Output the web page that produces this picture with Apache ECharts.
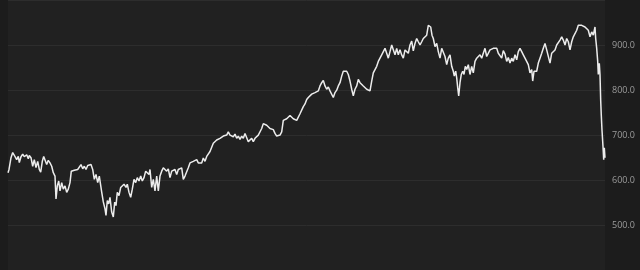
<!DOCTYPE html>
<html>
<head>
<meta charset="utf-8">
<script src="https://cdn.jsdelivr.net/npm/echarts@6/dist/echarts.min.js"></script>
<style>
html,body{margin:0;padding:0;background:#1c1c1c;}
#c{width:640px;height:270px;}
</style>
</head>
<body>
<div id="c"></div>
<script>
// trading-day index (x) and index level (y)
var days = [
0,1,3,4.7,6,7.3,8.7,10.3,11.3,13,14.7,16.3,18.7,20.3,21.3,23,24.7,26.3,28,29.7,31.3,32.7,34.3,35.7,37.3,38.7,40.3,42,43.7,45.3,47,48,49.3,50.7,52,53.7,55.3,57,58.7,60.3,62,63.3,64.7,66.3,68,69.7,71.3,73,74.7,76.3,78,79.7,81.3,83,84.7,86.3,88,89.7,91.3,
93.7,95.3,97,98,99.3,100.7,102,103.7,105.3,106.7,108,109.3,111,112.7,114.3,116,118,119.3,121,122.7,124.3,126,127.7,129.3,131,132.7,134.3,136,137.7,139.3,141,142,143.7,145.3,147,148.7,150.3,152,153.7,155.3,157,158.7,160.3,162,163.7,165.3,167,168.7,170.3,172,173.7,175.3,177,178.7,180.3,182,183.7,185.3,187,188.7,190.3,192,
193.7,195.3,197,198.7,200.3,202,203.7,205.3,207,208.7,210.3,212,213.7,215.3,217,218.7,220.3,222,223.7,225.3,227,228.7,230.3,232,233.7,235.3,237,238.7,240.3,242,243.7,245.3,247,248.7,250.3,252,253.7,255.3,257,258.7,260.3,262,263.7,265.3,267,268.7,270.3,272,273.7,275.3,277,278.7,280.3,282,283.7,285.3,287,288.7,290.3,292,293.7,295.3,297,298.7,300.3,
302,303.7,305.3,307,308.7,310.3,312,313.7,315.3,317,318.7,320.3,322,323.7,325.3,327,328.7,330.3,332,333.7,335.3,337,338.7,340.3,342,343.7,345.3,347,348.7,350.3,352,353.7,355.3,357,358.7,360.3,362,363.7,365.3,367,368.7,370.3,372,373.7,375.3,377,378.7,380.3,382,383.7,385.3,387,388.7,390.3,392,
393.7,395.3,397,398.7,400.3,402,403.7,405.3,407,408.7,410.3,412,413.7,415.3,417,418.7,420.3,421.3,422.7,424,425.3,427,428.7,430.3,432,433.7,435.3,437,438.7,440.3,442,443.7,445.3,446.3,447.7,448.7,449.7,450.7,452,453.3,454.7,456,457.3,458.7,460.3,462,463.7,465.3,467,468.7,470.3,472,473.7,475.3,477,478.7,480.3,482,483.7,485.3,487,488.7,490.3,492,
493.7,495.3,497,498.7,500.3,502,503.7,505.3,507,508.7,510.3,512,513.7,515.3,517,518.7,520.3,522,523.7,524.7,526,527.3,528.7,530.3,532,533.7,535.3,537,538.7,540.3,542,543.7,545.3,547,548.7,550.3,552,553.7,555.3,557,558.7,560.3,562,563.7,565.3,567,568.7,570.3,572,573.7,575.3,577,578.7,580.3,582,583.7,585.3,587,587.7,588.7,589.7,590.3,591.3,592,592.7,593.3,594,595,595.7,596.3,597
];
var values = [
616.2,623.4,649.6,661.1,656.1,658.3,645.2,652.4,638.6,651.7,657.6,651.7,656.1,647.4,654.6,649.6,630.6,645.2,627.7,641.5,623.4,617.5,641.5,652.4,648.9,634.3,643.7,638.0,630.6,616.2,608.7,557.9,586.9,597.8,576.0,594.3,579.7,586.9,572.5,579.7,594.3,619.6,616.2,621.8,617.5,623.4,619.6,634.3,624.9,630.6,623.4,632.1,630.6,634.3,623.4,601.5,612.4,594.3,608.7,
573.1,551.3,536.0,521.4,554.1,546.9,561.6,528.8,517.9,550.7,543.2,572.5,565.1,583.4,586.9,590.6,583.4,590.6,572.5,561.6,579.7,601.5,594.3,605.2,597.8,608.7,597.8,605.2,619.6,623.4,612.4,623.4,583.4,601.5,576.0,608.7,576.0,608.7,619.6,627.1,630.6,619.6,624.9,605.2,619.6,617.5,623.4,612.4,623.4,624.9,627.1,601.5,608.7,610.5,627.1,638.0,634.3,641.5,638.0,645.2,638.0,637.0,
638.0,648.9,641.5,652.4,656.1,663.3,667.0,681.7,677.9,688.9,685.2,692.6,688.9,697.6,694.8,699.8,707.0,699.8,703.5,696.1,702.0,692.6,697.6,690.4,697.6,692.6,703.5,702.0,685.2,688.9,692.6,685.2,692.6,688.9,699.8,703.5,714.4,725.3,728.8,721.6,719.4,714.4,710.7,712.0,703.5,697.6,694.8,699.8,707.0,732.5,728.8,736.2,739.7,743.5,747.2,736.2,732.5,732.5,728.8,747.2,750.7,763.1,769.0,778.8,783.4,
787.1,790.8,789.3,794.3,792.1,798.0,809.0,816.2,821.4,809.0,801.7,806.8,798.0,801.7,783.4,794.3,799.6,809.0,816.2,830.8,841.7,838.0,841.7,834.5,819.9,801.7,787.1,801.7,809.0,823.6,816.2,819.9,809.0,812.7,801.7,803.9,798.0,819.9,838.0,845.4,852.6,863.5,867.2,878.2,881.7,892.6,881.7,870.7,885.4,900.0,896.3,878.2,892.6,878.2,889.7,
878.0,870.7,889.1,892.6,881.7,900.0,908.7,886.9,903.5,914.4,907.2,900.0,907.2,914.4,910.9,921.8,943.7,947.2,940.0,921.8,914.4,896.3,903.5,885.4,870.7,892.6,896.3,874.5,856.3,870.7,878.2,852.6,841.7,830.8,841.7,827.1,805.2,787.1,816.2,834.5,841.7,834.5,852.6,845.4,856.3,834.5,852.6,838.0,863.5,870.7,867.2,878.2,870.7,881.7,892.6,874.5,878.2,889.1,887.0,892.6,896.3,892.6,881.7,883.6,
870.7,887.6,879.9,863.5,872.3,859.8,870.7,863.5,878.2,867.2,885.4,892.6,885.4,878.2,870.7,874.5,856.3,838.0,845.4,819.9,841.7,845.4,841.7,859.8,870.7,881.7,892.6,903.5,889.1,885.4,859.8,881.7,878.2,889.1,900.0,903.5,910.9,918.1,910.9,900.0,914.4,907.2,889.1,907.2,918.1,921.8,932.8,943.7,940.0,943.7,947.2,940.0,943.7,932.8,918.1,929.0,921.8,940.0,914.4,892.6,863.5,834.5,859.2,834.5,776.2,743.5,710.7,674.2,645.2,671.4,649.6
];
var yMin = 400, yMax = 1000, yStep = 100;

var pts = days.map(function (d, i) { return [d, values[i]]; });
var chart = echarts.init(document.getElementById('c'), null, {renderer: 'canvas'});
chart.setOption({
  backgroundColor: '#1c1c1c',
  animation: false,
  grid: {left: 8, right: 35, top: -2.5, bottom: -2.5, show: true, backgroundColor: '#212121', borderWidth: 0},
  xAxis: {type: 'value', min: 0, max: days[days.length - 1], show: false},
  yAxis: {
    type: 'value', position: 'right', min: yMin, max: yMax, interval: yStep,
    axisLine: {show: false}, axisTick: {show: false},
    splitLine: {show: true, lineStyle: {color: '#2d2d2d', width: 1}},
    axisLabel: {
      color: '#9c9c9c', fontSize: 9, fontFamily: 'Open Sans', margin: 7,
      showMinLabel: false, showMaxLabel: false,
      formatter: function (v) { return v.toFixed(1); }
    }
  },
  series: [{
    type: 'line', data: pts, showSymbol: false,
    lineStyle: {color: '#ececec', width: 1.5}
  }]
});
</script>
</body>
</html>
